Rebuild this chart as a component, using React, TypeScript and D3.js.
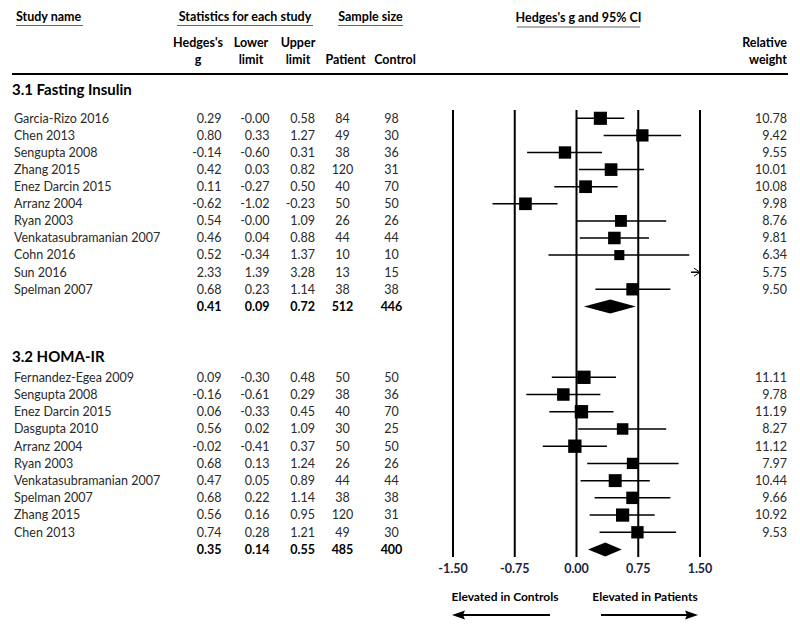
import React from "react";
import * as d3 from "d3";

const studies1 = ["Garcia-Rizo 2016","Chen 2013","Sengupta 2008","Zhang 2015","Enez Darcin 2015","Arranz 2004","Ryan 2003","Venkatasubramanian 2007","Cohn 2016","Sun 2016","Spelman 2007"];
const g1 = [0.29,0.80,-0.14,0.42,0.11,-0.62,0.54,0.46,0.52,2.33,0.68];
const lo1 = [-0.00,0.33,-0.60,0.03,-0.27,-1.02,-0.00,0.04,-0.34,1.39,0.23];
const hi1 = [0.58,1.27,0.31,0.82,0.50,-0.23,1.09,0.88,1.37,3.28,1.14];
const pat1 = [84,49,38,120,40,50,26,44,10,13,38];
const ctl1 = [98,30,36,31,70,50,26,44,10,15,38];
const w1 = [10.78,9.42,9.55,10.01,10.08,9.98,8.76,9.81,6.34,5.75,9.50];
const tot1 = { g: 0.41, lo: 0.09, hi: 0.72, pat: 512, ctl: 446 };

const studies2 = ["Fernandez-Egea 2009","Sengupta 2008","Enez Darcin 2015","Dasgupta 2010","Arranz 2004","Ryan 2003","Venkatasubramanian 2007","Spelman 2007","Zhang 2015","Chen 2013"];
const g2 = [0.09,-0.16,0.06,0.56,-0.02,0.68,0.47,0.68,0.56,0.74];
const lo2 = [-0.30,-0.61,-0.33,0.02,-0.41,0.13,0.05,0.22,0.16,0.28];
const hi2 = [0.48,0.29,0.45,1.09,0.37,1.24,0.89,1.14,0.95,1.21];
const pat2 = [50,38,40,30,50,26,44,38,120,49];
const ctl2 = [50,36,70,25,50,26,44,38,31,30];
const w2 = [11.11,9.78,11.19,8.27,11.12,7.97,10.44,9.66,10.92,9.53];
const tot2 = { g: 0.35, lo: 0.14, hi: 0.55, pat: 485, ctl: 400 };

const ticks = [-1.5, -0.75, 0, 0.75, 1.5];
const sections = ["3.1 Fasting Insulin", "3.2 HOMA-IR"];

const FONT = "Lato, 'Open Sans', sans-serif";
const TXT = "#2a2a2a";
const FS = 12.5;

const fmt = (v: number) => v.toFixed(2);

export default function App() {
  const x = d3.scaleLinear().domain([-1.5, 1.5]).range([453, 700]);
  const [xmin, xmax] = x.domain();

  const makeSection = (
    names: string[], g: number[], lo: number[], hi: number[], pat: number[], ctl: number[], w: number[],
    tot: any, y: d3.ScaleLinear<number, number>, key: string
  ) => {
    const totY = y(names.length);
    return (
      <g key={key}>
        {names.map((n, i) => {
          const yy = y(i);
          const side = 4 * Math.sqrt(w[i]);
          const inside = g[i] >= xmin && g[i] <= xmax;
          const l = Math.max(lo[i], xmin);
          const h = Math.min(hi[i], xmax);
          const loTxt = lo[i] === 0 ? "-0.00" : fmt(lo[i]);
          return (
            <g key={i} fontFamily={FONT} fontSize={FS} fill={TXT}>
              <text x={14} y={yy} dy="0.35em">{n}</text>
              <text x={221.5} y={yy} dy="0.35em" textAnchor="end">{fmt(g[i])}</text>
              <text x={269.5} y={yy} dy="0.35em" textAnchor="end">{loTxt}</text>
              <text x={315} y={yy} dy="0.35em" textAnchor="end">{fmt(hi[i])}</text>
              <text x={342.5} y={yy} dy="0.35em" textAnchor="middle">{pat[i]}</text>
              <text x={391.5} y={yy} dy="0.35em" textAnchor="middle">{ctl[i]}</text>
              <text x={787} y={yy} dy="0.35em" textAnchor="end">{w[i].toFixed(2)}</text>
              {l < h && (
                <line x1={x(l)} x2={x(h)} y1={yy} y2={yy} stroke="#000" strokeWidth={1.5} />
              )}
              {hi[i] > xmax && !inside && (
                <path d={`M${x(xmax) - 6},${yy - 4} L${x(xmax)},${yy} L${x(xmax) - 6},${yy + 4}`} fill="none" stroke="#000" strokeWidth={1} />
              )}
              {inside && (
                <rect x={x(g[i]) - side / 2} y={yy - side / 2} width={side} height={side} fill="#000" />
              )}
            </g>
          );
        })}
        <g fontFamily={FONT} fontSize={FS} fontWeight="bold" fill="#000">
          <text x={221.5} y={totY} dy="0.35em" textAnchor="end">{fmt(tot.g)}</text>
          <text x={269.5} y={totY} dy="0.35em" textAnchor="end">{fmt(tot.lo)}</text>
          <text x={315} y={totY} dy="0.35em" textAnchor="end">{fmt(tot.hi)}</text>
          <text x={342.5} y={totY} dy="0.35em" textAnchor="middle">{tot.pat}</text>
          <text x={391.5} y={totY} dy="0.35em" textAnchor="middle">{tot.ctl}</text>
        </g>
        <path
          d={`M${x(tot.lo)},${totY} L${x(tot.g)},${totY - 7} L${x(tot.hi)},${totY} L${x(tot.g)},${totY + 7} Z`}
          fill="#000"
        />
      </g>
    );
  };

  const y1 = d3.scaleLinear().domain([0, 10]).range([118.3, 289.3]);
  const y2 = d3.scaleLinear().domain([0, 9]).range([377.3, 532.3]);

  return (
    <svg width={800} height={632} style={{ position: "absolute", left: 0, top: 0 }}>
      <rect width={800} height={632} fill="#fff" />
      <g fontFamily={FONT} fontSize={FS} fontWeight="bold" fill="#000">
        <text x={16} y={17} dy="0.35em">Study name</text>
        <text x={245} y={17} dy="0.35em" textAnchor="middle">Statistics for each study</text>
        <text x={370.5} y={17} dy="0.35em" textAnchor="middle">Sample size</text>
        <text x={578.5} y={18} dy="0.35em" textAnchor="middle">Hedges's g and 95% CI</text>
        <text x={198} y={43} dy="0.35em" textAnchor="middle">Hedges's</text>
        <text x={198} y={60} dy="0.35em" textAnchor="middle">g</text>
        <text x={251} y={43} dy="0.35em" textAnchor="middle">Lower</text>
        <text x={251} y={60} dy="0.35em" textAnchor="middle">limit</text>
        <text x={298} y={43} dy="0.35em" textAnchor="middle">Upper</text>
        <text x={298} y={60} dy="0.35em" textAnchor="middle">limit</text>
        <text x={345.5} y={60} dy="0.35em" textAnchor="middle">Patient</text>
        <text x={395} y={60} dy="0.35em" textAnchor="middle">Control</text>
        <text x={787} y={43} dy="0.35em" textAnchor="end">Relative</text>
        <text x={787} y={60} dy="0.35em" textAnchor="end">weight</text>
      </g>
      <g stroke="#666" strokeWidth={1.2}>
        <line x1={16} x2={83} y1={25.5} y2={25.5} />
        <line x1={177} x2={313} y1={25.5} y2={25.5} />
        <line x1={338} x2={403} y1={25.5} y2={25.5} />
        <line x1={517} x2={640} y1={27} y2={27} />
      </g>
      <line x1={12} x2={788} y1={74} y2={74} stroke="#000" strokeWidth={2} />
      <g fontFamily={FONT} fontSize={15} fontWeight="bold" fill="#000">
        <text x={12} y={90} dy="0.35em">{sections[0]}</text>
        <text x={12} y={356.7} dy="0.35em">{sections[1]}</text>
      </g>
      {ticks.map((t) => (
        <line key={t} x1={x(t)} x2={x(t)} y1={110} y2={557} stroke="#000" strokeWidth={2} />
      ))}
      {makeSection(studies1, g1, lo1, hi1, pat1, ctl1, w1, tot1, y1, "s1")}
      {makeSection(studies2, g2, lo2, hi2, pat2, ctl2, w2, tot2, y2, "s2")}
      <g fontFamily={FONT} fontSize={FS} fontWeight="bold" fill="#1c2340">
        {ticks.map((t) => (
          <text key={t} x={x(t)} y={569} dy="0.35em" textAnchor="middle">{t.toFixed(2)}</text>
        ))}
      </g>
      <g fontFamily={FONT} fontSize={12} fontWeight="bold" fill="#000">
        <text x={505} y={597} dy="0.35em" textAnchor="middle">Elevated in Controls</text>
        <text x={645} y={597} dy="0.35em" textAnchor="middle">Elevated in Patients</text>
      </g>
      <line x1={550} x2={460} y1={615} y2={615} stroke="#000" strokeWidth={2} />
      <path d="M452,615 L465,610.5 L463,615 L465,619.5 Z" fill="#000" />
      <line x1={601} x2={690} y1={615} y2={615} stroke="#000" strokeWidth={2} />
      <path d="M698,615 L685,610.5 L687,615 L685,619.5 Z" fill="#000" />
    </svg>
  );
}
